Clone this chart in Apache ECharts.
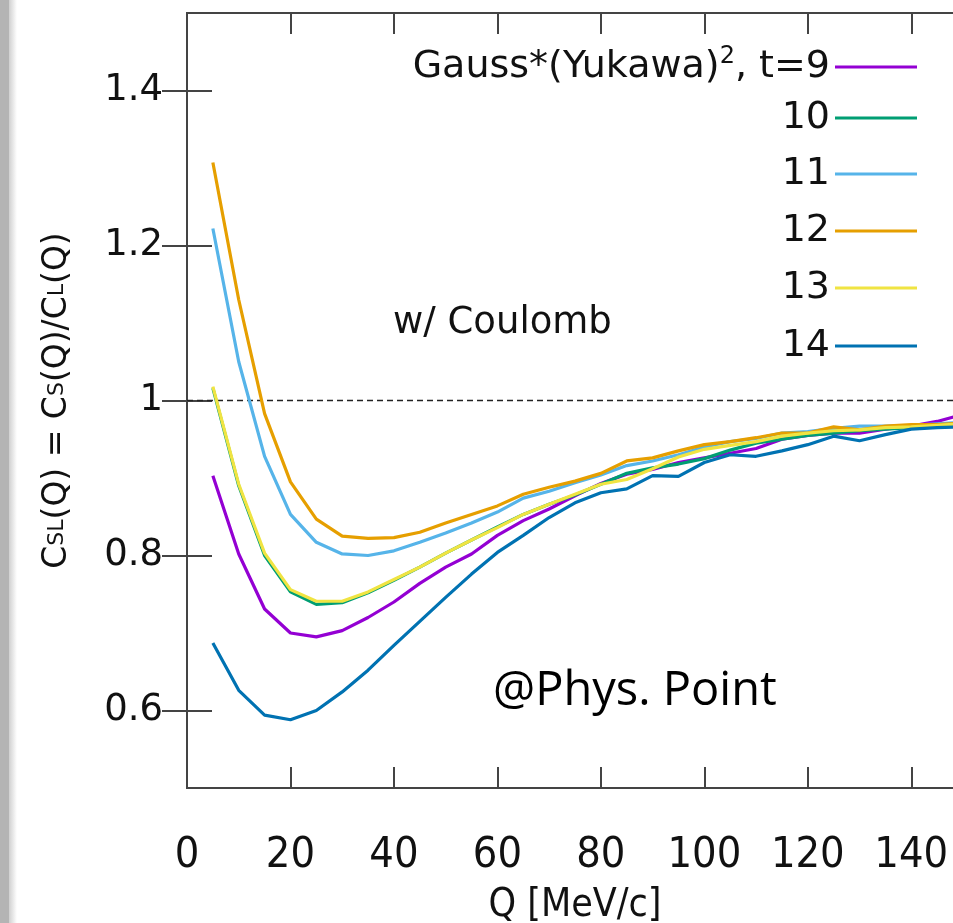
<!DOCTYPE html>
<html><head><meta charset="utf-8">
<script src="https://cdn.jsdelivr.net/npm/echarts@6/dist/echarts.min.js"></script>
<style>html,body{margin:0;padding:0;background:#fff}#c{width:953px;height:923px}</style>
</head><body><div id="c"></div>
<script>
const Q = [5,10,15,20,25,30,35,40,45,50,55,60,65,70,75,80,85,90,95,100,105,110,115,120,125,130,135,140,145,150];
const t9  = [0.903,0.802,0.731,0.700,0.695,0.703,0.720,0.740,0.764,0.785,0.802,0.826,0.845,0.860,0.877,0.893,0.905,0.911,0.920,0.926,0.932,0.938,0.950,0.955,0.958,0.958,0.963,0.967,0.973,0.982];
const t10 = [1.016,0.890,0.800,0.753,0.737,0.739,0.752,0.768,0.785,0.803,0.820,0.837,0.853,0.866,0.878,0.892,0.906,0.913,0.918,0.925,0.936,0.945,0.950,0.955,0.958,0.961,0.963,0.965,0.967,0.969];
const t11 = [1.222,1.050,0.928,0.853,0.817,0.802,0.800,0.806,0.817,0.829,0.842,0.856,0.874,0.883,0.894,0.904,0.916,0.922,0.930,0.940,0.947,0.951,0.958,0.960,0.964,0.967,0.967,0.968,0.970,0.972];
const t12 = [1.307,1.130,0.983,0.895,0.847,0.825,0.822,0.823,0.830,0.842,0.853,0.864,0.879,0.888,0.896,0.906,0.922,0.926,0.935,0.943,0.947,0.952,0.958,0.958,0.966,0.962,0.967,0.969,0.969,0.971];
const t13 = [1.018,0.892,0.803,0.756,0.741,0.741,0.753,0.769,0.785,0.803,0.820,0.836,0.853,0.866,0.879,0.892,0.898,0.912,0.927,0.937,0.942,0.947,0.954,0.958,0.961,0.962,0.965,0.966,0.968,0.970];
const t14 = [0.687,0.626,0.594,0.588,0.600,0.624,0.652,0.684,0.715,0.746,0.776,0.804,0.826,0.849,0.868,0.881,0.886,0.903,0.902,0.920,0.930,0.928,0.935,0.943,0.954,0.948,0.956,0.963,0.965,0.966];
const seriesNames = ['9','10','11','12','13','14'];
const seriesValues = [t9,t10,t11,t12,t13,t14];
const colors = ['#9400d3','#009e73','#56b4e9','#e69f00','#f0e442','#0072b2'];
const xTicks = [0,20,40,60,80,100,120,140];
const yTicks = [0.6,0.8,1,1.2,1.4];
const refLine = [[0,1],[150,1]];

const chart = echarts.init(document.getElementById('c'), null, {renderer:'canvas'});
const FONT = 'DejaVu Sans';
const NARROW = "'DejaVu Sans Condensed', 'DejaVu Sans'";
const series = seriesNames.map((n,i)=>({
  name:n, type:'line', symbol:'none', data:Q.map((q,j)=>[q,seriesValues[i][j]]),
  lineStyle:{width:3.2,color:colors[i]}, itemStyle:{color:colors[i]}, z:3+i, silent:true
}));
series.unshift({name:'ref', type:'line', symbol:'none', data:refLine,
  lineStyle:{width:1.5,color:'#222',type:[6,4]}, z:2, silent:true});

const rowY = [67,118,174,231,288,346];
const legends = seriesNames.map((n,i)=>({
  data:[{name:n, icon:'rect'}], orient:'vertical', align:'right', right:36, top:rowY[i]-22, padding:0,
  itemWidth:82, itemHeight:3, itemGap:0, selectedMode:false,
  textStyle:{fontFamily:FONT, fontSize:38, color:'#111', lineHeight:44,
    rich:{n:{fontFamily:FONT,fontSize:38,color:'#111',lineHeight:44},
          s:{fontFamily:FONT,fontSize:24,color:'#111',verticalAlign:'top',lineHeight:44,padding:[0,0,14,0]}}},
  formatter: nm => nm==='9' ? '{n|Gauss*(Yukawa)}{s|2}{n|, t=9}' : nm
}));

const tickStyle = {lineStyle:{color:'#444',width:2}};
chart.setOption({
  backgroundColor:'#fff',
  animation:false,
  grid:{left:187, top:13, right:-10, bottom:135, outerBoundsMode:'none', containLabel:false,
        show:true, borderColor:'#444', borderWidth:2, backgroundColor:'transparent'},
  legend:legends,
  xAxis:[
    {type:'value', min:0, max:150, position:'bottom', axisLine:{show:false}, splitLine:{show:false},
     axisTick:{show:true, inside:true, length:21, customValues:xTicks, ...tickStyle},
     axisLabel:{customValues:xTicks, fontFamily:NARROW, fontSize:43, color:'#111', margin:46},
     name:'Q [MeV/c]', nameLocation:'middle', nameGap:98,
     nameTextStyle:{fontFamily:NARROW, fontSize:39, color:'#111'}},
    {type:'value', min:0, max:150, position:'top', axisLine:{show:false}, splitLine:{show:false},
     axisTick:{show:true, inside:true, length:21, customValues:xTicks, ...tickStyle},
     axisLabel:{show:false}}
  ],
  yAxis:[
    {type:'value', min:0.5, max:1.5, position:'left', axisLine:{show:false}, splitLine:{show:false},
     axisTick:{show:true, inside:true, length:25, customValues:yTicks, ...tickStyle},
     axisLabel:{customValues:yTicks, fontFamily:FONT, fontSize:37, color:'#111', margin:24,
       formatter:v=>String(Math.round(v*10)/10)},
     name:'{m|C}{s|SL}{m|(Q) = C}{s|S}{m|(Q)/C}{s|L}{m|(Q)}', nameLocation:'middle', nameGap:113, nameRotate:90,
     nameTextStyle:{rich:{m:{fontFamily:FONT,fontSize:33,color:'#111'},s:{fontFamily:FONT,fontSize:22,color:'#111'}}}},
    {type:'value', min:0.5, max:1.5, position:'right', axisLine:{show:false}, splitLine:{show:false},
     axisTick:{show:true, inside:true, length:25, customValues:yTicks, ...tickStyle},
     axisLabel:{show:false}}
  ],
  graphic:[
    {type:'rect', left:0, top:0, shape:{width:9,height:923}, style:{fill:'#b4b4b4'}, silent:true},
    {type:'rect', left:9, top:0, shape:{width:8,height:923},
     style:{fill:new echarts.graphic.LinearGradient(0,0,1,0,[{offset:0,color:'#d0d0d0'},{offset:1,color:'#ffffff'}])}, silent:true},
    {type:'text', left:393, top:305, style:{text:'w/ Coulomb', fontFamily:FONT, fontSize:37, fill:'#111'}, silent:true},
    {type:'text', left:493, top:668, style:{text:'@Phys. Point', fontFamily:'Open Sans', fontSize:47, fill:'#000'}, silent:true}
  ],
  series:series
});
</script></body></html>
